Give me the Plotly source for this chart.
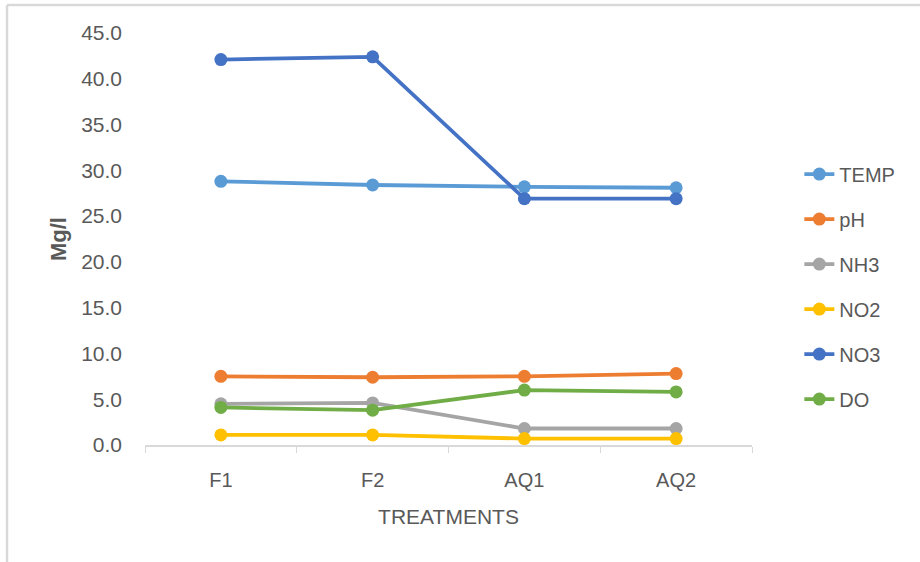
import plotly.graph_objects as go

treatments = ["F1", "F2", "AQ1", "AQ2"]
temp = [28.8, 28.4, 28.2, 28.1]
ph = [7.5, 7.4, 7.5, 7.8]
nh3 = [4.5, 4.6, 1.8, 1.8]
no2 = [1.1, 1.1, 0.7, 0.7]
no3 = [42.1, 42.4, 26.9, 26.9]
do = [4.1, 3.8, 6.0, 5.8]

series = [
    ("TEMP", temp, "#5B9BD5"),
    ("pH", ph, "#ED7D31"),
    ("NH3", nh3, "#A5A5A5"),
    ("NO2", no2, "#FFC000"),
    ("NO3", no3, "#4472C4"),
    ("DO", do, "#70AD47"),
]

FONT = "Liberation Sans"
GREY = "#595959"

fig = go.Figure()
for name, vals, color in series:
    fig.add_trace(go.Scatter(
        x=treatments, y=vals, name=name, mode="lines+markers",
        legendgroup=name,
        line=dict(color=color, width=3.8),
        marker=dict(color=color, size=13),
    ))

fig.update_layout(
    width=920, height=562,
    margin=dict(l=145, r=168, t=33, b=116.5),
    paper_bgcolor="white", plot_bgcolor="white",
    font=dict(family=FONT, color=GREY, size=20),
    showlegend=True,
    legend=dict(
        x=1.078, y=0.705, xanchor="left", yanchor="top",
        font=dict(size=20, color=GREY, family=FONT),
        tracegroupgap=16, bgcolor="rgba(0,0,0,0)",
    ),
    xaxis=dict(
        type="category", range=[-0.5, 3.5],
        showline=True, linecolor="#D9D9D9", linewidth=1.5,
        ticks="outside", tickcolor="#D9D9D9", ticklen=6,
        tickson="boundaries",
        showgrid=False, zeroline=False,
        tickfont=dict(size=20, color=GREY),
        ticklabelstandoff=16,
        title=dict(text="TREATMENTS", font=dict(size=21, color=GREY), standoff=20),
    ),
    yaxis=dict(
        range=[0, 45], dtick=5, tickformat=".1f",
        showline=False, showgrid=False, zeroline=False,
        tickfont=dict(size=21, color=GREY),
        ticklabelstandoff=22,
        title=dict(text="<b>Mg/l</b>", font=dict(size=22, color=GREY), standoff=8),
    ),
    shapes=[
        dict(type="line", xref="paper", yref="paper",
             x0=-0.2273, x1=2.0, y0=1.0679, y1=1.0679,
             line=dict(color="#D9D9D9", width=2.5)),
        dict(type="line", xref="paper", yref="paper",
             x0=-0.2273, x1=-0.2273, y0=1.0679, y1=-1.0,
             line=dict(color="#D9D9D9", width=2.5)),
    ],
)

fig.write_html("out.html")
